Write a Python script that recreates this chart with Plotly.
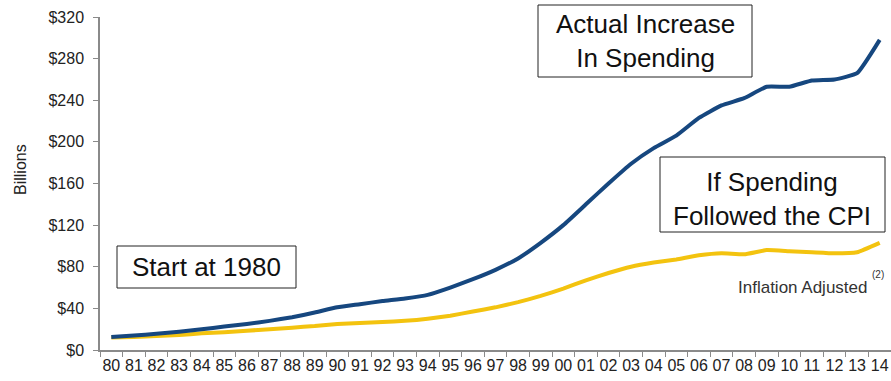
import plotly.graph_objects as go

years = ["80", "81", "82", "83", "84", "85", "86", "87", "88", "89",
         "90", "91", "92", "93", "94", "95", "96", "97", "98", "99",
         "00", "01", "02", "03", "04", "05", "06", "07", "08", "09",
         "10", "11", "12", "13", "14"]

actual = [12.5, 14, 15.5, 17.5, 20, 22.5, 25, 28, 31.5, 36,
          41, 44, 47, 49.5, 53, 60, 68, 77, 88, 103,
          120, 140, 160, 179, 194, 206, 223, 235, 242, 253,
          253, 259, 260, 266, 298]

inflation = [12, 12.5, 13.5, 14.5, 16, 17, 18.5, 20, 21.5, 23,
             25, 26, 27, 28, 30, 33, 37, 41, 46, 52,
             59, 67, 74, 80, 84, 87, 91, 93, 92, 96,
             95, 94, 93, 94, 103]

y_ticks = [0, 40, 80, 120, 160, 200, 240, 280, 320]
y_ticktext = ["$" + str(v) for v in y_ticks]

BLUE = "#16477f"
YELLOW = "#f3c30f"
FONT = "Liberation Sans, Arial, sans-serif"

fig = go.Figure()
fig.add_trace(go.Scatter(x=years, y=inflation, mode="lines",
                         line=dict(color=YELLOW, width=4, shape="spline", smoothing=0.4),
                         hoverinfo="skip", showlegend=False))
fig.add_trace(go.Scatter(x=years, y=actual, mode="lines",
                         line=dict(color=BLUE, width=4, shape="spline", smoothing=0.4),
                         hoverinfo="skip", showlegend=False))

L, R, T, B = 100, 891, 17, 350
W, H = R - L, B - T

def px(x):
    return (x - L) / W

def py(y):
    return (B - y) / H

# boxes
boxes = [(538, 5, 752, 77), (660, 157, 885, 232), (117, 246, 296, 288)]
for x0, y0, x1, y1 in boxes:
    fig.add_shape(type="rect", xref="paper", yref="paper",
                  x0=px(x0), x1=px(x1), y0=py(y1), y1=py(y0),
                  line=dict(color="#222222", width=1), fillcolor="white", layer="above")

texts = [("Actual Increase<br>In Spending", 645, 41),
         ("If Spending<br>Followed the CPI", 772, 199),
         ("Start at 1980", 206, 267)]
for t, x, y in texts:
    fig.add_annotation(text=t, xref="paper", yref="paper", x=px(x), y=py(y),
                       xanchor="center", yanchor="middle", showarrow=False,
                       font=dict(family=FONT, size=26, color="#111111"), align="center")

fig.add_annotation(text="Inflation Adjusted", xref="paper", yref="paper",
                   x=px(802), y=py(287), xanchor="center", yanchor="middle",
                   showarrow=False, font=dict(family=FONT, size=17, color="#333333"))
fig.add_annotation(text="(2)", xref="paper", yref="paper",
                   x=px(878), y=py(274), xanchor="center", yanchor="middle",
                   showarrow=False, font=dict(family=FONT, size=10, color="#333333"))
fig.add_annotation(text="Billions", xref="paper", yref="paper",
                   x=px(20), y=py(170), xanchor="center", yanchor="middle",
                   textangle=-90, showarrow=False,
                   font=dict(family=FONT, size=16, color="#222222"))

fig.update_layout(
    width=891, height=381,
    margin=dict(l=L, r=891 - R, t=T, b=381 - B),
    paper_bgcolor="white", plot_bgcolor="white",
    font=dict(family=FONT, color="#333333"),
    xaxis=dict(type="category", range=[-0.5, 34.5], tickson="boundaries",
               ticks="outside", ticklen=5, tickcolor="#8a8a8a",
               showline=True, linecolor="#8a8a8a", linewidth=1.5,
               showgrid=False, zeroline=False,
               tickfont=dict(size=16, color="#222222"), tickangle=0, fixedrange=True),
    yaxis=dict(range=[0, 320], tickvals=y_ticks, ticktext=y_ticktext,
               ticks="outside", ticklen=5, tickcolor="#8a8a8a",
               showline=True, linecolor="#8a8a8a", linewidth=1.5,
               showgrid=False, zeroline=False, ticklabelstandoff=6,
               tickfont=dict(size=16, color="#222222"), fixedrange=True),
)

fig.write_html("out.html")
